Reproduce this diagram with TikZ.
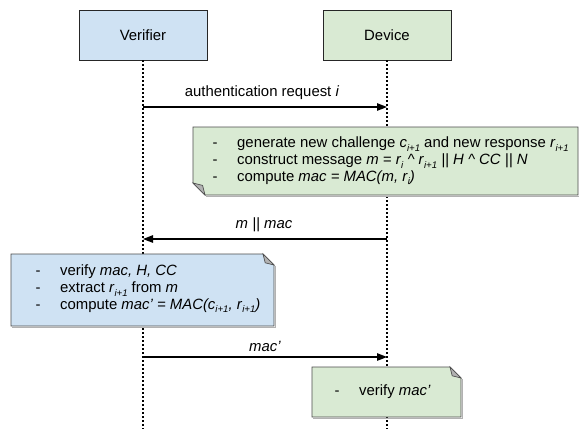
\documentclass[tikz,border=0pt]{standalone}
\usepackage{fontspec}
\setmainfont{Liberation Sans}
\usetikzlibrary{arrows.meta}
\definecolor{vblue}{HTML}{CFE2F3}
\definecolor{dgreen}{HTML}{D9EAD3}
\newcommand\lowidx[1]{\raisebox{-0.5ex}{\fontsize{9.6}{9.6}\selectfont\itshape #1}}
\newcommand\dashitem[1]{\makebox[24.5pt][l]{-}#1}
\begin{document}
\begin{tikzpicture}[x=1pt,y=-1pt,
  actor/.style={draw=black!85, line width=0.8pt, minimum width=128pt, minimum height=50pt, inner sep=0pt, font=\fontsize{14.9}{17}\selectfont},
  lifeline/.style={line width=1.1pt, dash pattern=on 1.1pt off 2.9pt},
  msg/.style={line width=1.3pt, -{Triangle[length=10pt,width=7.5pt]}},
  notebox/.style={draw=black!70, line width=0.8pt},
  noteshadow/.style={draw=black!30, line width=1pt},
  flap/.style={draw=black!70, line width=0.7pt, fill=black!30},
  notetext/.style={anchor=west, align=left, inner sep=0pt, font=\fontsize{14.9}{16.6}\selectfont},
  lbl/.style={inner sep=0pt, font=\fontsize{14.9}{17}\selectfont}]
\useasboundingbox (0,0) rectangle (579,429);
\fill[white] (0,0) rectangle (579,429);

\node[actor, fill=vblue] (ver) at (143,35) {Verifier};
\node[actor, fill=dgreen] (dev) at (387,35) {Device};
\coordinate (verend) at (143,429);
\coordinate (devend) at (387,429);
\draw[lifeline] (ver.south) -- (verend);
\draw[lifeline] (dev.south) -- (devend);

\coordinate (v1) at (143,107);
\coordinate (d1) at (387,107);
\coordinate (v2) at (143,239);
\coordinate (d2) at (387,239);
\coordinate (v3) at (143,357);
\coordinate (d3) at (387,357);

\draw[msg] (v1) -- (d1);
\node[lbl] (l1) at (262,93) {authentication request \textit{i}};
\draw[msg] (d2) -- (v2);
\node[lbl] (l2) at (264,225) {\textit{m || mac}};
\draw[msg] (v3) -- (d3);
\node[lbl] (l3) at (265,346) {\textit{mac'}};

% device note 1 (fold bottom-left)
\draw[noteshadow] (206,196.2) -- (579.2,196.2) -- (579.2,128);
\draw[notebox, fill=dgreen] (193,127) -- (578,127) -- (578,195) -- (205,195) -- (193,183) -- cycle;
\draw[flap] (193,183) -- (205,195) -- (202.6,185.4) -- cycle;
\node[notetext] (n1) at (212.5,161) {\dashitem{generate new challenge \textit{c}\lowidx{i+1} and new response \textit{r}\lowidx{i+1}}\\
\dashitem{construct message \textit{m = r}\lowidx{i} \textit{\textasciicircum{} r}\lowidx{i+1} \textit{|| H \textasciicircum{} CC || N}}\\
\dashitem{compute \textit{mac = MAC(m, r}\lowidx{i}\textit{)}}};

% verifier note (fold top-right)
\draw[noteshadow] (12,327.2) -- (275.2,327.2) -- (275.2,266);
\draw[notebox, fill=vblue] (11,254) -- (263,254) -- (274,265) -- (274,326) -- (11,326) -- cycle;
\draw[flap] (263,254) -- (274,265) -- (265.2,262.8) -- cycle;
\node[notetext] (n2) at (35.5,289) {\dashitem{verify \textit{mac, H, CC}}\\
\dashitem{extract \textit{r}\lowidx{i+1} from \textit{m}}\\
\dashitem{compute \textit{mac' = MAC(c}\lowidx{i+1}\textit{, r}\lowidx{i+1}\textit{)}}};

% device note 2 (fold top-right)
\draw[noteshadow] (313,418.2) -- (462.2,418.2) -- (462.2,379);
\draw[notebox, fill=dgreen] (312,367) -- (450,367) -- (461,378) -- (461,417) -- (312,417) -- cycle;
\draw[flap] (450,367) -- (461,378) -- (452.2,375.8) -- cycle;
\node[notetext] (n3) at (334.5,392) {\dashitem{verify \textit{mac'}}};
\end{tikzpicture}
\end{document}
